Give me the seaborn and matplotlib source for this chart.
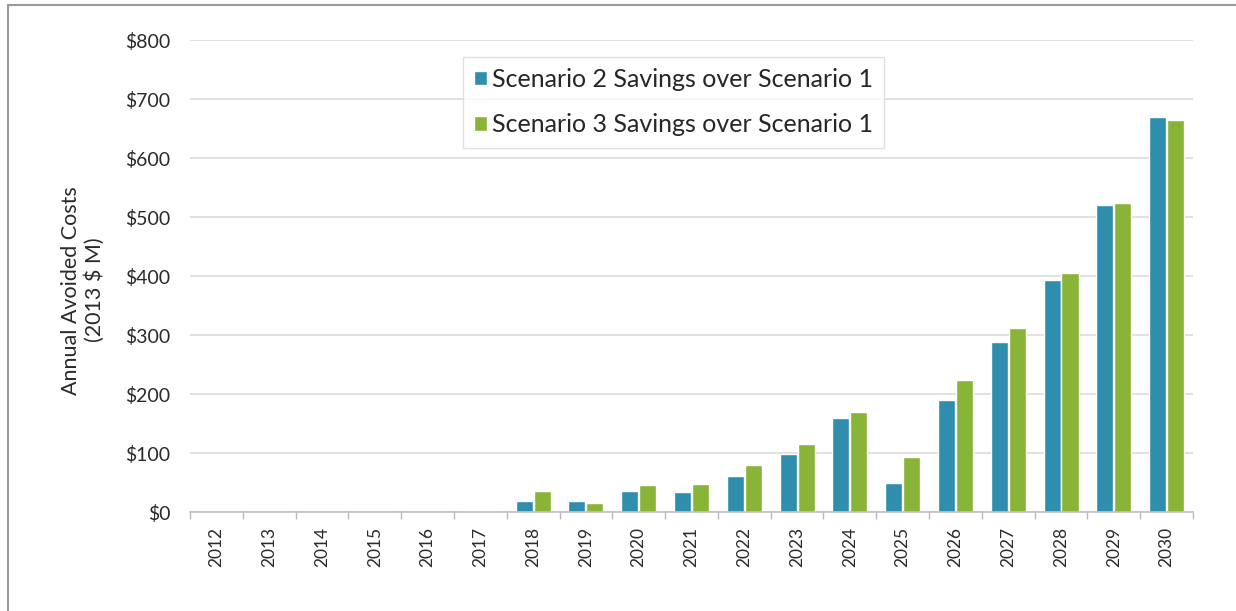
"""Annual avoided costs by year: Scenario 2 and 3 savings over Scenario 1."""

import matplotlib.pyplot as plt
import numpy as np
import pandas as pd
import seaborn as sns
from matplotlib.lines import Line2D
from matplotlib.ticker import FixedLocator, StrMethodFormatter

YEARS = [str(y) for y in range(2012, 2031)]
SCENARIO_2 = [0, 0, 0, 0, 0, 1, 18, 18, 35, 34, 61, 98, 160, 50, 190, 288, 393, 520, 670]
SCENARIO_3 = [0, 0, 0, 0, 0, 1, 35, 15, 46, 48, 80, 115, 170, 93, 224, 312, 405, 523, 665]
SERIES_NAMES = ["Scenario 2 Savings over Scenario 1", "Scenario 3 Savings over Scenario 1"]
COLORS = ["#2F8DAE", "#8AB438"]
Y_TICKS = [0, 100, 200, 300, 400, 500, 600, 700, 800]


def main() -> None:
    sns.set_theme(style="white")
    plt.rcParams["font.family"] = ["Lato", "DejaVu Sans"]

    data = pd.DataFrame(
        {
            "year": YEARS * 2,
            "series": [SERIES_NAMES[0]] * len(YEARS) + [SERIES_NAMES[1]] * len(YEARS),
            "value": SCENARIO_2 + SCENARIO_3,
        }
    )

    fig = plt.figure(figsize=(12.36, 6.11), dpi=100)
    ax = fig.add_axes([0.1537, 0.162, 0.8115, 0.7725])
    sns.barplot(
        data=data,
        x="year",
        y="value",
        hue="series",
        palette=COLORS,
        width=0.68,
        gap=0.05,
        saturation=1,
        ax=ax,
    )

    ax.set_ylim(0, 800)
    ax.set_xlim(-0.5, len(YEARS) - 0.5)
    ax.yaxis.set_major_locator(FixedLocator(Y_TICKS))
    ax.yaxis.set_major_formatter(StrMethodFormatter("${x:,.0f}"))
    ax.grid(axis="y", color="#dcdcdc", linewidth=1.2)
    ax.set_axisbelow(True)
    for side in ["top", "right", "left"]:
        ax.spines[side].set_visible(False)
    ax.spines["bottom"].set_color("#c0c0c0")
    ax.spines["bottom"].set_linewidth(1.2)

    ax.tick_params(axis="y", length=0, labelsize=14, labelcolor="#2a2a2a", pad=14)
    ax.tick_params(axis="x", which="major", length=0, labelsize=12.5, labelcolor="#2a2a2a",
                   rotation=90, pad=11)
    ax.set_xticks(np.arange(-0.5, len(YEARS), 1.0), minor=True)
    ax.tick_params(axis="x", which="minor", bottom=True, length=5, color="#b8b8b8", width=1)

    ax.set_xlabel("")
    ax.set_ylabel("Annual Avoided Costs\n(2013 $ M)", fontsize=15.5, color="#2a2a2a", labelpad=14)
    ax.yaxis.set_label_coords(-0.085, 0.47)

    ax.legend(
        loc="upper left",
        bbox_to_anchor=(0.272, 0.965),
        fontsize=18,
        frameon=True,
        fancybox=False,
        edgecolor="#d9d9d9",
        handlelength=0.5,
        handleheight=0.5,
        handletextpad=0.2,
        labelspacing=0.9,
        borderpad=0.45,
        borderaxespad=0,
        title=None,
    )

    # thin grey frame at the top and left edges of the image
    fig.add_artist(Line2D([8 / 1236, 8 / 1236], [0, 1 - 5 / 611], transform=fig.transFigure,
                          color="#9a9a9a", linewidth=1.5))
    fig.add_artist(Line2D([8 / 1236, 1], [1 - 5 / 611, 1 - 5 / 611], transform=fig.transFigure,
                          color="#9a9a9a", linewidth=1.5))

    fig.savefig("out.png", dpi=100, facecolor="white")
    plt.close(fig)


if __name__ == "__main__":
    main()
